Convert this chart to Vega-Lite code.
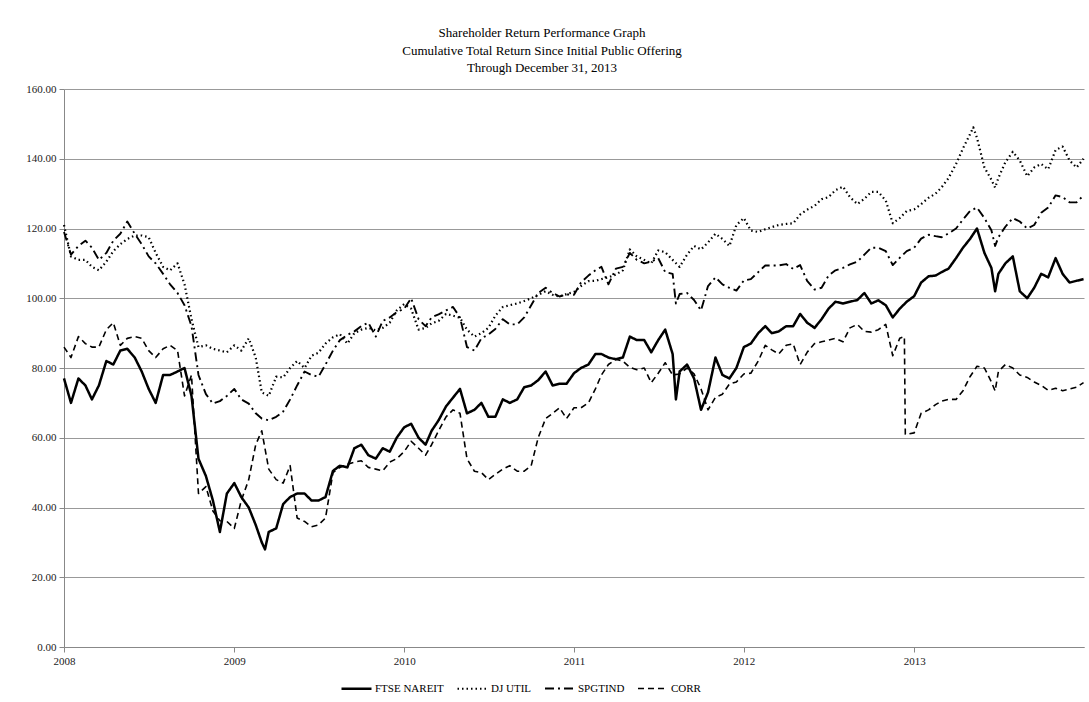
{
  "$schema": "https://vega.github.io/schema/vega-lite/v6.json",
  "width": 1020,
  "height": 558,
  "autosize": "none",
  "padding": {"left": 64, "top": 89, "right": 5, "bottom": 55},
  "background": "white",
  "title": {
    "text": ["Shareholder Return Performance Graph", "Cumulative Total Return Since Initial Public Offering", "Through December 31, 2013"],
    "font": "Liberation Serif", "fontSize": 13, "fontWeight": "normal", "lineHeight": 17.5,
    "anchor": "middle", "dx": -32, "offset": 8, "color": "black"
  },
  "data": {"values": [
    {"date":"2008-01-01","FTSE NAREIT":77,"DJ UTIL":121,"SPGTIND":119,"CORR":86},
    {"date":"2008-01-16","FTSE NAREIT":70,"DJ UTIL":112,"SPGTIND":112.5,"CORR":83},
    {"date":"2008-02-01","FTSE NAREIT":77,"DJ UTIL":111,"SPGTIND":115,"CORR":89},
    {"date":"2008-02-16","FTSE NAREIT":75,"DJ UTIL":111,"SPGTIND":116.5,"CORR":87},
    {"date":"2008-03-01","FTSE NAREIT":71,"DJ UTIL":109,"SPGTIND":114.5,"CORR":86},
    {"date":"2008-03-16","FTSE NAREIT":75,"DJ UTIL":108,"SPGTIND":111,"CORR":86},
    {"date":"2008-04-01","FTSE NAREIT":82,"DJ UTIL":110.5,"SPGTIND":113,"CORR":91},
    {"date":"2008-04-16","FTSE NAREIT":81,"DJ UTIL":113.5,"SPGTIND":116.5,"CORR":93},
    {"date":"2008-05-01","FTSE NAREIT":85,"DJ UTIL":115.5,"SPGTIND":118.5,"CORR":86.5},
    {"date":"2008-05-16","FTSE NAREIT":85.5,"DJ UTIL":117,"SPGTIND":122,"CORR":88.5},
    {"date":"2008-06-01","FTSE NAREIT":83,"DJ UTIL":118,"SPGTIND":118.5,"CORR":89},
    {"date":"2008-06-16","FTSE NAREIT":79,"DJ UTIL":118,"SPGTIND":115.5,"CORR":88.5},
    {"date":"2008-07-01","FTSE NAREIT":74,"DJ UTIL":117.5,"SPGTIND":112,"CORR":85},
    {"date":"2008-07-16","FTSE NAREIT":70,"DJ UTIL":113,"SPGTIND":110,"CORR":83},
    {"date":"2008-08-01","FTSE NAREIT":78,"DJ UTIL":109,"SPGTIND":107,"CORR":85.5},
    {"date":"2008-08-16","FTSE NAREIT":78,"DJ UTIL":108,"SPGTIND":104,"CORR":86.5},
    {"date":"2008-09-01","FTSE NAREIT":79,"DJ UTIL":110,"SPGTIND":101.5,"CORR":85},
    {"date":"2008-09-16","FTSE NAREIT":80,"DJ UTIL":104,"SPGTIND":98,"CORR":72},
    {"date":"2008-10-01","FTSE NAREIT":72,"DJ UTIL":94,"SPGTIND":92,"CORR":78},
    {"date":"2008-10-16","FTSE NAREIT":54,"DJ UTIL":86,"SPGTIND":78,"CORR":44},
    {"date":"2008-11-01","FTSE NAREIT":49,"DJ UTIL":86.5,"SPGTIND":72.5,"CORR":46},
    {"date":"2008-11-16","FTSE NAREIT":42,"DJ UTIL":85.5,"SPGTIND":69.8,"CORR":39},
    {"date":"2008-12-01","FTSE NAREIT":33,"DJ UTIL":85,"SPGTIND":70.5,"CORR":36.2},
    {"date":"2008-12-16","FTSE NAREIT":44,"DJ UTIL":84.5,"SPGTIND":72,"CORR":36},
    {"date":"2009-01-01","FTSE NAREIT":47,"DJ UTIL":86.5,"SPGTIND":74,"CORR":34},
    {"date":"2009-01-16","FTSE NAREIT":43,"DJ UTIL":85,"SPGTIND":71,"CORR":42},
    {"date":"2009-02-01","FTSE NAREIT":40,"DJ UTIL":88.5,"SPGTIND":69.8,"CORR":48},
    {"date":"2009-02-16","FTSE NAREIT":35,"DJ UTIL":83,"SPGTIND":67,"CORR":58},
    {"date":"2009-03-01","FTSE NAREIT":30,"DJ UTIL":73,"SPGTIND":65.5,"CORR":62},
    {"date":"2009-03-08","FTSE NAREIT":28},
    {"date":"2009-03-16","FTSE NAREIT":33,"DJ UTIL":72,"SPGTIND":65,"CORR":51},
    {"date":"2009-04-01","FTSE NAREIT":34,"DJ UTIL":77.5,"SPGTIND":66,"CORR":48},
    {"date":"2009-04-16","FTSE NAREIT":41,"DJ UTIL":77.3,"SPGTIND":67.5,"CORR":47},
    {"date":"2009-05-01","FTSE NAREIT":43,"DJ UTIL":80,"SPGTIND":71,"CORR":52},
    {"date":"2009-05-16","FTSE NAREIT":44,"DJ UTIL":82,"SPGTIND":75,"CORR":37},
    {"date":"2009-06-01","FTSE NAREIT":44,"DJ UTIL":80,"SPGTIND":79,"CORR":36},
    {"date":"2009-06-16","FTSE NAREIT":42,"DJ UTIL":83.5,"SPGTIND":78,"CORR":34.5},
    {"date":"2009-07-01","FTSE NAREIT":42,"DJ UTIL":84.4,"SPGTIND":77.5,"CORR":35},
    {"date":"2009-07-16","FTSE NAREIT":43,"DJ UTIL":87,"SPGTIND":81,"CORR":37},
    {"date":"2009-08-01","FTSE NAREIT":50.5,"DJ UTIL":88.8,"SPGTIND":85,"CORR":50},
    {"date":"2009-08-16","FTSE NAREIT":52,"DJ UTIL":89.7,"SPGTIND":88,"CORR":51.5},
    {"date":"2009-09-01","FTSE NAREIT":51.5,"DJ UTIL":87,"SPGTIND":89.5,"CORR":52.4},
    {"date":"2009-09-16","FTSE NAREIT":57,"DJ UTIL":90,"SPGTIND":90.5,"CORR":53},
    {"date":"2009-10-01","FTSE NAREIT":58,"DJ UTIL":91,"SPGTIND":92,"CORR":53.4},
    {"date":"2009-10-16","FTSE NAREIT":55,"DJ UTIL":91.5,"SPGTIND":93,"CORR":51.5},
    {"date":"2009-11-01","FTSE NAREIT":54,"DJ UTIL":90.8,"SPGTIND":89,"CORR":51},
    {"date":"2009-11-16","FTSE NAREIT":57,"DJ UTIL":91.5,"SPGTIND":93.5,"CORR":50.5},
    {"date":"2009-12-01","FTSE NAREIT":56,"DJ UTIL":93,"SPGTIND":94.5,"CORR":53},
    {"date":"2009-12-16","FTSE NAREIT":60,"DJ UTIL":96.5,"SPGTIND":96,"CORR":54},
    {"date":"2010-01-01","FTSE NAREIT":63,"DJ UTIL":98.3,"SPGTIND":97,"CORR":56},
    {"date":"2010-01-16","FTSE NAREIT":64,"DJ UTIL":97,"SPGTIND":100,"CORR":59},
    {"date":"2010-02-01","FTSE NAREIT":60,"DJ UTIL":91,"SPGTIND":94,"CORR":57},
    {"date":"2010-02-16","FTSE NAREIT":58,"DJ UTIL":91.5,"SPGTIND":92,"CORR":55},
    {"date":"2010-03-01","FTSE NAREIT":62,"DJ UTIL":92.8,"SPGTIND":94.5,"CORR":58},
    {"date":"2010-03-16","FTSE NAREIT":65,"DJ UTIL":93.5,"SPGTIND":95.4,"CORR":62},
    {"date":"2010-04-01","FTSE NAREIT":69,"DJ UTIL":95.5,"SPGTIND":96.5,"CORR":66},
    {"date":"2010-04-16","FTSE NAREIT":71.5,"DJ UTIL":95,"SPGTIND":97.5,"CORR":68},
    {"date":"2010-05-01","FTSE NAREIT":74,"DJ UTIL":94.4,"SPGTIND":94.5,"CORR":67},
    {"date":"2010-05-16","FTSE NAREIT":67,"DJ UTIL":91,"SPGTIND":86,"CORR":54},
    {"date":"2010-06-01","FTSE NAREIT":68,"DJ UTIL":89,"SPGTIND":85,"CORR":50.4},
    {"date":"2010-06-16","FTSE NAREIT":70,"DJ UTIL":90,"SPGTIND":88.5,"CORR":50},
    {"date":"2010-07-01","FTSE NAREIT":66,"DJ UTIL":91.5,"SPGTIND":89.6,"CORR":48},
    {"date":"2010-07-16","FTSE NAREIT":66,"DJ UTIL":95,"SPGTIND":91.2,"CORR":49.5},
    {"date":"2010-08-01","FTSE NAREIT":71,"DJ UTIL":97.5,"SPGTIND":94,"CORR":51},
    {"date":"2010-08-16","FTSE NAREIT":70,"DJ UTIL":98,"SPGTIND":92.5,"CORR":52},
    {"date":"2010-09-01","FTSE NAREIT":71,"DJ UTIL":98.5,"SPGTIND":92.5,"CORR":50.4},
    {"date":"2010-09-16","FTSE NAREIT":74.5,"DJ UTIL":99.2,"SPGTIND":94.5,"CORR":50.4},
    {"date":"2010-10-01","FTSE NAREIT":75,"DJ UTIL":100,"SPGTIND":98,"CORR":52},
    {"date":"2010-10-16","FTSE NAREIT":76.5,"DJ UTIL":101,"SPGTIND":101.5,"CORR":60},
    {"date":"2010-11-01","FTSE NAREIT":79,"DJ UTIL":102,"SPGTIND":103,"CORR":65.5},
    {"date":"2010-11-16","FTSE NAREIT":75,"DJ UTIL":101,"SPGTIND":101.5,"CORR":67},
    {"date":"2010-12-01","FTSE NAREIT":75.5,"DJ UTIL":100.5,"SPGTIND":100.5,"CORR":68.6},
    {"date":"2010-12-16","FTSE NAREIT":75.5,"DJ UTIL":101.2,"SPGTIND":101.1,"CORR":65.5},
    {"date":"2011-01-01","FTSE NAREIT":78.5,"DJ UTIL":101.8,"SPGTIND":101,"CORR":68.6},
    {"date":"2011-01-16","FTSE NAREIT":80,"DJ UTIL":103.5,"SPGTIND":104.5,"CORR":68.6},
    {"date":"2011-02-01","FTSE NAREIT":81,"DJ UTIL":104.9,"SPGTIND":106.5,"CORR":70},
    {"date":"2011-02-16","FTSE NAREIT":84,"DJ UTIL":105,"SPGTIND":108,"CORR":74},
    {"date":"2011-03-01","FTSE NAREIT":84,"DJ UTIL":105.5,"SPGTIND":109,"CORR":78},
    {"date":"2011-03-16","FTSE NAREIT":83,"DJ UTIL":106,"SPGTIND":104,"CORR":81},
    {"date":"2011-04-01","FTSE NAREIT":82.5,"DJ UTIL":106.8,"SPGTIND":108.5,"CORR":82.5},
    {"date":"2011-04-16","FTSE NAREIT":83,"DJ UTIL":108,"SPGTIND":109,"CORR":82},
    {"date":"2011-05-01","FTSE NAREIT":89,"DJ UTIL":114,"SPGTIND":113,"CORR":80.2},
    {"date":"2011-05-16","FTSE NAREIT":88,"DJ UTIL":112,"SPGTIND":111,"CORR":79.5},
    {"date":"2011-06-01","FTSE NAREIT":88,"DJ UTIL":111,"SPGTIND":110,"CORR":80},
    {"date":"2011-06-16","FTSE NAREIT":84.5,"DJ UTIL":110,"SPGTIND":110.5,"CORR":75.8},
    {"date":"2011-07-01","FTSE NAREIT":88,"DJ UTIL":113.7,"SPGTIND":111.5,"CORR":78.5},
    {"date":"2011-07-16","FTSE NAREIT":91,"DJ UTIL":113.2,"SPGTIND":107.5,"CORR":81.5},
    {"date":"2011-08-01","FTSE NAREIT":84,"DJ UTIL":111,"SPGTIND":107,"CORR":78},
    {"date":"2011-08-08","FTSE NAREIT":71,"SPGTIND":98.5},
    {"date":"2011-08-16","FTSE NAREIT":79,"DJ UTIL":109,"SPGTIND":101.2,"CORR":78.3},
    {"date":"2011-09-01","FTSE NAREIT":81,"DJ UTIL":112.5,"SPGTIND":101.5,"CORR":80},
    {"date":"2011-09-16","FTSE NAREIT":77,"DJ UTIL":115,"SPGTIND":99.5,"CORR":78.3},
    {"date":"2011-10-01","FTSE NAREIT":68,"DJ UTIL":114,"SPGTIND":96.5,"CORR":74},
    {"date":"2011-10-16","FTSE NAREIT":73,"DJ UTIL":116,"SPGTIND":103.5,"CORR":68},
    {"date":"2011-11-01","FTSE NAREIT":83,"DJ UTIL":118.5,"SPGTIND":106,"CORR":71.6},
    {"date":"2011-11-16","FTSE NAREIT":78,"DJ UTIL":117,"SPGTIND":104,"CORR":72.5},
    {"date":"2011-12-01","FTSE NAREIT":77,"DJ UTIL":115,"SPGTIND":103,"CORR":75.4},
    {"date":"2011-12-16","FTSE NAREIT":80,"DJ UTIL":121,"SPGTIND":102.2,"CORR":76},
    {"date":"2012-01-01","FTSE NAREIT":86,"DJ UTIL":123,"SPGTIND":105.1,"CORR":78.3},
    {"date":"2012-01-16","FTSE NAREIT":87,"DJ UTIL":119.4,"SPGTIND":105.5,"CORR":78.5},
    {"date":"2012-02-01","FTSE NAREIT":90,"DJ UTIL":119,"SPGTIND":107.5,"CORR":82},
    {"date":"2012-02-16","FTSE NAREIT":92,"DJ UTIL":119.8,"SPGTIND":109.4,"CORR":86.5},
    {"date":"2012-03-01","FTSE NAREIT":90,"DJ UTIL":120.4,"SPGTIND":109.4,"CORR":85.2},
    {"date":"2012-03-16","FTSE NAREIT":90.5,"DJ UTIL":121,"SPGTIND":109.4,"CORR":84},
    {"date":"2012-04-01","FTSE NAREIT":92,"DJ UTIL":121.3,"SPGTIND":109.8,"CORR":86.5},
    {"date":"2012-04-16","FTSE NAREIT":92,"DJ UTIL":121.5,"SPGTIND":108.4,"CORR":86.9},
    {"date":"2012-05-01","FTSE NAREIT":95.5,"DJ UTIL":124,"SPGTIND":109.5,"CORR":81},
    {"date":"2012-05-16","FTSE NAREIT":93,"DJ UTIL":125.4,"SPGTIND":105,"CORR":84.5},
    {"date":"2012-06-01","FTSE NAREIT":91.5,"DJ UTIL":126.5,"SPGTIND":102.5,"CORR":87},
    {"date":"2012-06-16","FTSE NAREIT":94,"DJ UTIL":128.4,"SPGTIND":103,"CORR":87.5},
    {"date":"2012-07-01","FTSE NAREIT":97,"DJ UTIL":129,"SPGTIND":106.5,"CORR":88},
    {"date":"2012-07-16","FTSE NAREIT":99,"DJ UTIL":131,"SPGTIND":108,"CORR":88.5},
    {"date":"2012-08-01","FTSE NAREIT":98.5,"DJ UTIL":132,"SPGTIND":108.7,"CORR":87.5},
    {"date":"2012-08-16","FTSE NAREIT":99,"DJ UTIL":129,"SPGTIND":109.7,"CORR":91.5},
    {"date":"2012-09-01","FTSE NAREIT":99.5,"DJ UTIL":127,"SPGTIND":110.5,"CORR":92.5},
    {"date":"2012-09-16","FTSE NAREIT":101.5,"DJ UTIL":128.5,"SPGTIND":112.5,"CORR":90.5},
    {"date":"2012-10-01","FTSE NAREIT":98.5,"DJ UTIL":130.5,"SPGTIND":114.5,"CORR":90.3},
    {"date":"2012-10-16","FTSE NAREIT":99.4,"DJ UTIL":130.5,"SPGTIND":114.5,"CORR":91},
    {"date":"2012-11-01","FTSE NAREIT":98,"DJ UTIL":128,"SPGTIND":113.5,"CORR":92.5},
    {"date":"2012-11-16","FTSE NAREIT":94.5,"DJ UTIL":121.5,"SPGTIND":109.5,"CORR":83.5},
    {"date":"2012-12-01","FTSE NAREIT":97,"DJ UTIL":123,"SPGTIND":111.6,"CORR":88.5},
    {"date":"2012-12-11","CORR":89},
    {"date":"2012-12-13","CORR":61},
    {"date":"2012-12-16","FTSE NAREIT":99,"DJ UTIL":125,"SPGTIND":113.5,"CORR":61},
    {"date":"2013-01-01","FTSE NAREIT":100.6,"DJ UTIL":125.5,"SPGTIND":114.5,"CORR":61.4},
    {"date":"2013-01-16","FTSE NAREIT":104.5,"DJ UTIL":127,"SPGTIND":117.1,"CORR":67},
    {"date":"2013-02-01","FTSE NAREIT":106.3,"DJ UTIL":128.8,"SPGTIND":118.2,"CORR":68},
    {"date":"2013-02-16","FTSE NAREIT":106.5,"DJ UTIL":130,"SPGTIND":117.8,"CORR":69.5},
    {"date":"2013-03-01","FTSE NAREIT":107.5,"DJ UTIL":131.8,"SPGTIND":117.5,"CORR":70.5},
    {"date":"2013-03-16","FTSE NAREIT":108.5,"DJ UTIL":134.5,"SPGTIND":118.6,"CORR":71},
    {"date":"2013-04-01","FTSE NAREIT":111.5,"DJ UTIL":138.5,"SPGTIND":120,"CORR":71},
    {"date":"2013-04-16","FTSE NAREIT":114.5,"DJ UTIL":143,"SPGTIND":122.6,"CORR":73.5},
    {"date":"2013-05-01","FTSE NAREIT":117,"DJ UTIL":147,"SPGTIND":125,"CORR":77.5},
    {"date":"2013-05-08","DJ UTIL":149},
    {"date":"2013-05-16","FTSE NAREIT":120,"DJ UTIL":146,"SPGTIND":126,"CORR":80.5},
    {"date":"2013-06-01","FTSE NAREIT":113,"DJ UTIL":137.5,"SPGTIND":123,"CORR":80},
    {"date":"2013-06-16","FTSE NAREIT":108.7,"DJ UTIL":134,"SPGTIND":119.5,"CORR":76},
    {"date":"2013-06-24","FTSE NAREIT":102,"DJ UTIL":131.7,"SPGTIND":115,"CORR":73.4},
    {"date":"2013-07-01","FTSE NAREIT":107,"DJ UTIL":134.5,"SPGTIND":117.5,"CORR":79},
    {"date":"2013-07-16","FTSE NAREIT":110,"DJ UTIL":139,"SPGTIND":120.5,"CORR":81},
    {"date":"2013-08-01","FTSE NAREIT":112,"DJ UTIL":142,"SPGTIND":123,"CORR":80},
    {"date":"2013-08-16","FTSE NAREIT":102,"DJ UTIL":139.5,"SPGTIND":122,"CORR":78},
    {"date":"2013-09-01","FTSE NAREIT":100,"DJ UTIL":135,"SPGTIND":120,"CORR":77.3},
    {"date":"2013-09-16","FTSE NAREIT":103,"DJ UTIL":137.5,"SPGTIND":121,"CORR":76},
    {"date":"2013-10-01","FTSE NAREIT":107,"DJ UTIL":138.5,"SPGTIND":124.5,"CORR":75},
    {"date":"2013-10-16","FTSE NAREIT":106,"DJ UTIL":137,"SPGTIND":126,"CORR":73.6},
    {"date":"2013-11-01","FTSE NAREIT":111.5,"DJ UTIL":142.5,"SPGTIND":129.5,"CORR":74.2},
    {"date":"2013-11-16","FTSE NAREIT":107,"DJ UTIL":143.5,"SPGTIND":129,"CORR":73.5},
    {"date":"2013-12-01","FTSE NAREIT":104.5,"DJ UTIL":139.5,"SPGTIND":127.5,"CORR":74},
    {"date":"2013-12-16","FTSE NAREIT":105,"DJ UTIL":137.5,"SPGTIND":127.5,"CORR":74.5},
    {"date":"2013-12-31","FTSE NAREIT":105.5,"DJ UTIL":140,"SPGTIND":129.5,"CORR":75.8}
  ]},
  "transform": [
    {"fold": ["FTSE NAREIT", "DJ UTIL", "SPGTIND", "CORR"], "as": ["series", "value"]},
    {"filter": "datum.value != null"}
  ],
  "mark": {"type": "line", "color": "black", "strokeCap": "butt", "strokeJoin": "round"},
  "encoding": {
    "x": {
      "field": "date", "type": "temporal",
      "scale": {"type": "utc", "domain": [{"year": 2008, "month": 1, "date": 1, "utc": true}, {"year": 2014, "month": 1, "date": 1, "utc": true}]},
      "axis": {
        "title": null, "format": "%Y", "grid": false, "labelFlush": false, "labelOverlap": false,
        "values": [
          {"year": 2008, "month": 1, "date": 1, "utc": true},
          {"year": 2009, "month": 1, "date": 1, "utc": true},
          {"year": 2010, "month": 1, "date": 1, "utc": true},
          {"year": 2011, "month": 1, "date": 1, "utc": true},
          {"year": 2012, "month": 1, "date": 1, "utc": true},
          {"year": 2013, "month": 1, "date": 1, "utc": true}
        ],
        "labelFont": "Liberation Serif", "labelFontSize": 11, "labelColor": "#222",
        "domainColor": "#888", "tickColor": "#888", "tickSize": 5, "labelPadding": 3
      }
    },
    "y": {
      "field": "value", "type": "quantitative",
      "scale": {"domain": [0, 160], "nice": false},
      "axis": {
        "title": null, "format": ".2f", "values": [0, 20, 40, 60, 80, 100, 120, 140, 160],
        "labelFont": "Liberation Serif", "labelFontSize": 11, "labelColor": "#222",
        "domainColor": "#888", "tickColor": "#888", "tickSize": 5, "labelPadding": 3,
        "gridColor": "#999", "gridWidth": 1
      }
    },
    "strokeDash": {
      "field": "series", "type": "nominal",
      "scale": {"domain": ["FTSE NAREIT", "DJ UTIL", "SPGTIND", "CORR"], "range": [[1, 0], [1.5, 3], [9, 4, 2, 4], [6, 4]]},
      "legend": {"title": null, "orient": "none", "legendX": 276, "legendY": 583, "direction": "horizontal"}
    },
    "strokeWidth": {
      "field": "series", "type": "nominal",
      "scale": {"domain": ["FTSE NAREIT", "DJ UTIL", "SPGTIND", "CORR"], "range": [2.5, 1.6, 3.8, 2]},
      "legend": {"title": null, "orient": "none", "legendX": 276, "legendY": 583, "direction": "horizontal"}
    }
  },
  "config": {
    "view": {"stroke": null},
    "legend": {
      "symbolType": "stroke", "symbolSize": 900,
      "symbolStrokeColor": "black", "labelFont": "Liberation Serif", "labelFontSize": 11, "labelColor": "black",
      "columnPadding": 9, "labelOffset": 2
    }
  }
}
